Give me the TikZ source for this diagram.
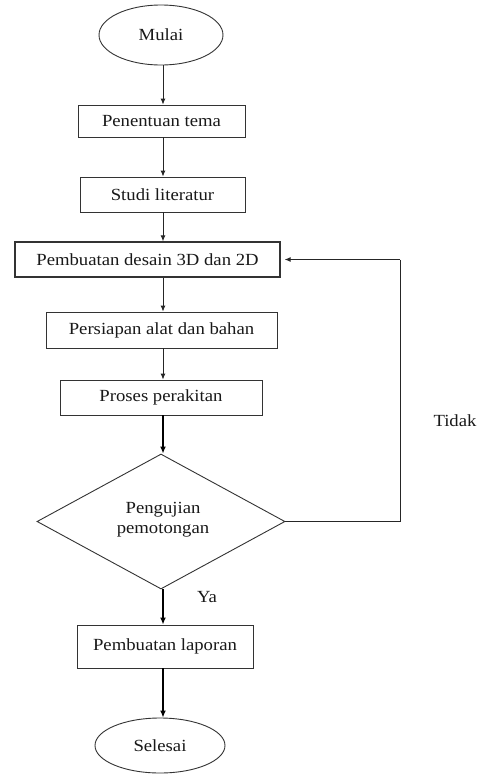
\documentclass[tikz,border=0pt]{standalone}
\usepackage{fontspec}
\setmainfont[FakeStretch=1.1]{Liberation Serif}
\usetikzlibrary{shapes.geometric,arrows.meta}
\begin{document}
\begin{tikzpicture}[x=1pt,y=-1pt,
  base/.style={draw=black!80,line width=0.9pt,inner sep=0pt,align=center,
    font=\fontsize{17}{20}\selectfont,text=black!90},
  box/.style={base,rectangle},
  term/.style={base,ellipse},
  decision/.style={base,diamond},
  lbl/.style={font=\fontsize{17}{20}\selectfont,text=black!90},
  arr/.style={draw=black!85,line width=0.9pt,-{Latex[length=6pt,width=5pt]}},
  arrb/.style={draw=black,line width=1.4pt,-{Latex[length=7pt,width=6pt]}},
  link/.style={draw=black!85,line width=1pt}]
\useasboundingbox[fill=white] (0,0) rectangle (481,774);
\coordinate (spine) at (163,0);
\node[term,minimum width=124pt,minimum height=60pt] (mulai) at (161,35) {Mulai};
\node[box,minimum width=167pt,minimum height=32pt] (tema) at (161.5,121) {Penentuan tema};
\node[box,minimum width=165pt,minimum height=35pt] (studi) at (162.5,194.5) {Studi literatur};
\node[box,minimum width=265pt,minimum height=35pt,line width=1.3pt] (desain) at (147.5,259.5) {Pembuatan desain 3D dan 2D};
\node[box,minimum width=231pt,minimum height=36pt] (persiapan) at (161.5,330) {Persiapan alat dan bahan};
\node[box,minimum width=202pt,minimum height=35pt] (proses) at (161,397.5) {Proses perakitan};
\node[decision,minimum width=248pt,minimum height=135pt] (uji) at (161,521.5) {};
\node[lbl,align=center] (ujitext) at (163,520) {\fontsize{17}{20}\selectfont Pengujian\\pemotongan};
\node[box,minimum width=176pt,minimum height=43pt] (laporan) at (165,646.5) {Pembuatan laporan};
\node[term,minimum width=130pt,minimum height=55pt] (selesai) at (160,745.5) {Selesai};
\node[lbl] (tidak) at (455,421) {Tidak};
\node[lbl] (ya) at (207,597) {Ya};
\coordinate (fbx) at (400,0);

\draw[arr] (spine |- mulai.south) -- (spine |- tema.north);
\draw[arr] (spine |- tema.south) -- (spine |- studi.north);
\draw[arr] (spine |- studi.south) -- (spine |- desain.north);
\draw[arr] (spine |- desain.south) -- (spine |- persiapan.north);
\draw[arr] (spine |- persiapan.south) -- (spine |- proses.north);
\draw[arrb] (spine |- proses.south) -- (spine |- uji.north);
\draw[arrb] (uji.south -| spine) -- (spine |- laporan.north);
\draw[arrb] (spine |- laporan.south) -- (spine |- selesai.north);
\draw[link] (uji.east) -- (fbx |- uji.east) -- (fbx |- desain.east);
\draw[arr,shorten >=4pt] (fbx |- desain.east) -- (desain.east);
\end{tikzpicture}
\end{document}
